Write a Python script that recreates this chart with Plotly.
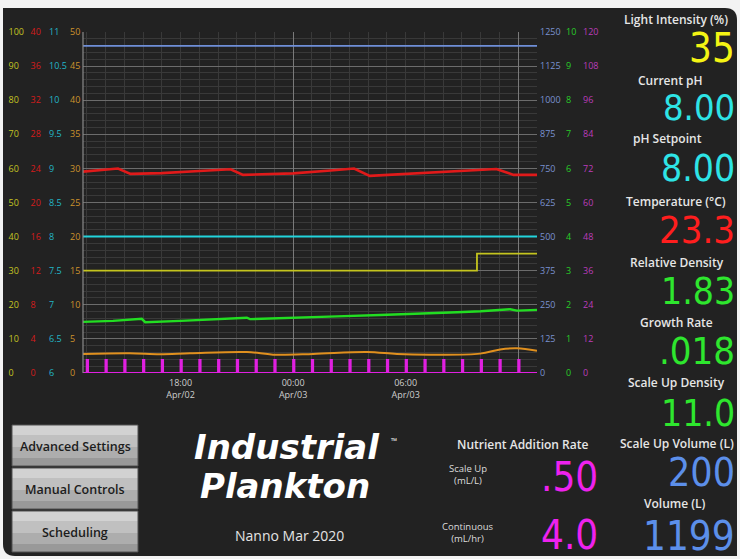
import plotly.graph_objects as go
import pandas as pd

W, H = 740, 559

# ---------------- data ----------------
x_start = "2020-04-02 12:48"
x_end = "2020-04-03 13:00"

x_tick_times = ["2020-04-02 18:00", "2020-04-03 00:00", "2020-04-03 06:00"]
x_tick_labels = ["18:00<br>Apr/02", "00:00<br>Apr/03", "06:00<br>Apr/03"]

# Temperature (°C) – red, left axis 0..40
temp_times = ["2020-04-02 12:48", "2020-04-02 13:40", "2020-04-02 14:40", "2020-04-02 15:20",
              "2020-04-02 17:00", "2020-04-02 19:00", "2020-04-02 20:40", "2020-04-02 21:20",
              "2020-04-03 00:00", "2020-04-03 02:00", "2020-04-03 03:15", "2020-04-03 04:05",
              "2020-04-03 06:00", "2020-04-03 08:30", "2020-04-03 10:50", "2020-04-03 11:45",
              "2020-04-03 13:00"]
temp_values = [23.62, 23.8, 23.98, 23.36, 23.45, 23.7, 23.9, 23.24, 23.42, 23.75, 23.98,
               23.12, 23.35, 23.7, 23.93, 23.24, 23.24]

# pH – cyan, left axis 6..11
ph_times = ["2020-04-02 12:48", "2020-04-02 16:00", "2020-04-02 20:00", "2020-04-03 00:00",
            "2020-04-03 04:00", "2020-04-03 08:00", "2020-04-03 13:00"]
ph_values = [8.0, 8.0, 8.0, 8.0, 8.0, 8.0, 8.0]

# Light intensity (%) – yellow, left axis 0..100
light_times = ["2020-04-02 12:48", "2020-04-03 09:48", "2020-04-03 13:00"]
light_values = [30, 35, 35]

# Orange series – left axis 0..50
orange_times = ["2020-04-02 12:48", "2020-04-02 15:18", "2020-04-02 16:54", "2020-04-02 18:30",
                "2020-04-02 21:32", "2020-04-02 22:56", "2020-04-03 01:04", "2020-04-03 03:56",
                "2020-04-03 05:32", "2020-04-03 07:18", "2020-04-03 09:58", "2020-04-03 11:02",
                "2020-04-03 11:56", "2020-04-03 13:00"]
orange_values = [2.79, 2.88, 2.74, 2.88, 3.08, 2.69, 2.79, 3.08, 2.79, 2.69, 2.84, 3.46, 3.62, 3.27]

# Volume (L) – blue, right axis 0..1250
volume_times = ["2020-04-02 12:48", "2020-04-03 13:00"]
volume_values = [1199, 1199]

# Relative density – green, right axis 0..10
density_times = ["2020-04-02 12:48", "2020-04-02 14:24", "2020-04-02 15:56", "2020-04-02 16:07",
                 "2020-04-02 18:00", "2020-04-02 21:32", "2020-04-02 21:42", "2020-04-03 00:00",
                 "2020-04-03 02:20", "2020-04-03 04:38", "2020-04-03 06:40", "2020-04-03 08:44",
                 "2020-04-03 10:00", "2020-04-03 11:34", "2020-04-03 11:56", "2020-04-03 13:00"]
density_values = [1.50, 1.53, 1.59, 1.49, 1.53, 1.62, 1.58, 1.63, 1.66, 1.70, 1.73, 1.78,
                  1.81, 1.87, 1.83, 1.85]

# Nutrient doses – magenta, right axis 0..120
dose_times = ["2020-04-02 13:00", "2020-04-02 14:00", "2020-04-02 15:00", "2020-04-02 16:00",
              "2020-04-02 17:00", "2020-04-02 18:00", "2020-04-02 19:00", "2020-04-02 20:00",
              "2020-04-02 21:00", "2020-04-02 22:00", "2020-04-02 23:00", "2020-04-03 00:00",
              "2020-04-03 01:00", "2020-04-03 02:00", "2020-04-03 03:00", "2020-04-03 04:00",
              "2020-04-03 05:00", "2020-04-03 06:00", "2020-04-03 07:00", "2020-04-03 08:00",
              "2020-04-03 09:00", "2020-04-03 10:00", "2020-04-03 11:00", "2020-04-03 12:00"]
dose_amounts = [4.6, 4.6, 4.6, 4.6, 4.6, 4.6, 4.6, 4.6, 4.6, 4.6, 4.6, 4.6,
                4.6, 4.6, 4.6, 4.6, 4.6, 4.6, 4.6, 4.6, 4.6, 4.6, 4.6, 4.6]

# Right-hand readouts
panel_labels = ["Light Intensity (%)", "Current pH", "pH Setpoint", "Temperature (°C)",
                "Relative Density", "Growth Rate", "Scale Up Density", "Scale Up Volume (L)",
                "Volume (L)"]
panel_values = ["35", "8.00", "8.00", "23.3", "1.83", ".018", "11.0", "200", "1199"]
panel_colors = ["#f4f414", "#2ee4e6", "#2ee4e6", "#ff1e1e", "#2ee62e", "#2ee62e", "#2ee62e",
                "#5c8fea", "#5c8fea"]

nutrient_labels = ["Scale Up<br>(mL/L)", "Continuous<br>(mL/hr)"]
nutrient_values = [".50", "4.0"]

buttons = ["Advanced Settings", "Manual Controls", "Scheduling"]

# ---------------- build ----------------
BG = "#222222"


def px(x):
    return x / W


def py(y):
    return 1 - y / H


# build dosing pulse line from dose events
pulse_x, pulse_y = [x_start], [0]
for t, a in zip(dose_times, dose_amounts):
    t0 = pd.Timestamp(t)
    t1 = t0 + pd.Timedelta(minutes=4)
    pulse_x += [t0, t0, t1, t1]
    pulse_y += [0, a, a, 0]
pulse_x.append(x_end)
pulse_y.append(0)

fig = go.Figure()
fig.add_trace(go.Scatter(x=volume_times, y=volume_values, yaxis="y5", mode="lines",
                         line=dict(color="#6f8fd8", width=1.6)))
fig.add_trace(go.Scatter(x=temp_times, y=temp_values, yaxis="y3", mode="lines",
                         line=dict(color="#e01a1a", width=2.6)))
fig.add_trace(go.Scatter(x=ph_times, y=ph_values, yaxis="y4", mode="lines",
                         line=dict(color="#22d4dc", width=2)))
fig.add_trace(go.Scatter(x=light_times, y=light_values, yaxis="y2", mode="lines",
                         line=dict(color="#c4c41e", width=1.8, shape="hv")))
fig.add_trace(go.Scatter(x=density_times, y=density_values, yaxis="y6", mode="lines",
                         line=dict(color="#22dd22", width=2.4)))
fig.add_trace(go.Scatter(x=orange_times, y=orange_values, yaxis="y", mode="lines",
                         line=dict(color="#e0901e", width=2, shape="spline")))
fig.add_trace(go.Scatter(x=pulse_x, y=pulse_y, xaxis="x2", yaxis="y7", mode="lines",
                         line=dict(color="#e020e0", width=2)))

dom_x = [px(83), px(537)]
dom_y = [py(373), py(32)]
LBL_FONT = "Open Sans"


def yax(rng, dtick, color, pos, main=False):
    d = dict(range=rng, tickmode="linear", tick0=rng[0], dtick=dtick, anchor="free",
             position=pos, side="right", showgrid=main, zeroline=False, showline=False,
             ticks="", automargin=False, domain=dom_y,
             tickfont=dict(size=9, color=color, family=LBL_FONT))
    if main:
        d.update(gridcolor="#6c6c6c", gridwidth=1,
                 minor=dict(tickmode="linear", tick0=0, dtick=1, showgrid=True,
                            gridcolor="#393939", ticks=""))
    else:
        d["overlaying"] = "y"
    return d


fig.update_layout(
    width=W, height=H, margin=dict(l=0, r=0, t=0, b=0),
    paper_bgcolor="#f3f3f3", plot_bgcolor=BG, showlegend=False,
    template="none", hovermode=False,
    xaxis=dict(domain=dom_x, range=[x_start, x_end], anchor="y", type="date",
               tickmode="array", tickvals=x_tick_times, ticktext=x_tick_labels,
               showgrid=False, zeroline=False, showline=False, ticks="", automargin=False,
               ticklabelstandoff=3,
               tickfont=dict(size=9, color="#cfcfcf", family=LBL_FONT),
               minor=dict(tickmode="linear", tick0="2020-04-02 00:00", dtick=3600000,
                          showgrid=True, gridcolor="#393939", ticks="")),
    xaxis2=dict(domain=dom_x, range=[x_start, x_end], overlaying="x", anchor="y", type="date",
                tickmode="linear", tick0="2020-04-03 00:00", dtick=43200000,
                showgrid=True, gridcolor="#7a7a7a", showticklabels=False, ticks="",
                zeroline=False, showline=False, automargin=False),
    yaxis=yax([0, 50], 5, "#cc922c", px(69), main=True),
    yaxis2=yax([0, 100], 10, "#c4c422", px(7.5)),
    yaxis3=yax([0, 40], 4, "#d41c1c", px(29.5)),
    yaxis4=yax([6, 11], 0.5, "#22b6c6", px(48)),
    yaxis5=yax([0, 1250], 125, "#7a92d0", px(539)),
    yaxis6=yax([0, 10], 1, "#28cc28", px(565)),
    yaxis7=yax([0, 120], 12, "#bb3cbb", px(582)),
)

shapes = []
# dark rounded panel
x0, x1, y0, y1, r = px(3), px(737), py(8), py(556), 12
rx, ry = r / W, r / H
path = (f"M {x0},{y0} L {x1 - rx},{y0} Q {x1},{y0} {x1},{y0 - ry} "
        f"L {x1},{y1} L {x0 + rx},{y1} Q {x0},{y1} {x0},{y1 + ry} Z")
shapes.append(dict(type="path", xref="paper", yref="paper", path=path,
                   fillcolor=BG, line=dict(width=0), layer="below"))
# plot left border
shapes.append(dict(type="line", xref="x domain", yref="y domain", x0=0, x1=0, y0=0, y1=1,
                   line=dict(color="#8a8a8a", width=1.2)))
# buttons
btn_tops = [425, 468, 511]
for bt in btn_tops:
    bands = [("#d2d2d2", 0, 10), ("#c0c0c0", 10, 22), ("#adadad", 22, 33), ("#999999", 33, 41)]
    for col, a, b in bands:
        shapes.append(dict(type="rect", xref="paper", yref="paper", x0=px(12), x1=px(138),
                           y0=py(bt + b), y1=py(bt + a), fillcolor=col, line=dict(width=0)))
    shapes.append(dict(type="rect", xref="paper", yref="paper", x0=px(12), x1=px(138),
                       y0=py(bt + 41), y1=py(bt), fillcolor="rgba(0,0,0,0)",
                       line=dict(color="#505050", width=1)))
fig.update_layout(shapes=shapes)

ann = []
label_y = [19, 80, 138.5, 202, 262, 322, 382, 443, 503]
label_x = [676, 670, 667, 676, 677, 676, 676, 677, 675]
digit_y = [46, 105, 166.5, 228, 289, 349, 411, 470.5, 533.5]
digit_size = [40, 36, 37, 38, 37, 38, 37, 39, 40]
DIGIT_FONT = "DejaVu Sans Condensed, DejaVu Sans"
for lbl, lx, ly in zip(panel_labels, label_x, label_y):
    ann.append(dict(text=lbl, x=px(lx), y=py(ly), xref="paper", yref="paper",
                    xanchor="center", yanchor="middle", showarrow=False,
                    font=dict(size=12, color="#e6e6e6", family=LBL_FONT, weight=600)))
for val, col, dy, ds in zip(panel_values, panel_colors, digit_y, digit_size):
    ann.append(dict(text=val, x=px(737), y=py(dy + 2), xref="paper", yref="paper",
                    xanchor="right", yanchor="middle", showarrow=False,
                    font=dict(size=ds, color=col, family=DIGIT_FONT)))

for b, bt in zip(buttons, btn_tops):
    ann.append(dict(text=b, x=px(75), y=py(bt + 21), xref="paper", yref="paper",
                    xanchor="center", yanchor="middle", showarrow=False,
                    font=dict(size=12.5, color="#1c1c1c", family=LBL_FONT, weight=600)))

ann.append(dict(text="Industrial", x=px(287), y=py(447), xref="paper", yref="paper",
                xanchor="center", yanchor="middle", showarrow=False,
                font=dict(size=34, color="#ffffff", family="DejaVu Sans", weight="bold",
                          style="italic")))
ann.append(dict(text="™", x=px(394), y=py(440), xref="paper", yref="paper",
                xanchor="center", yanchor="middle", showarrow=False,
                font=dict(size=8, color="#ffffff", family=LBL_FONT)))
ann.append(dict(text="Plankton", x=px(285), y=py(486), xref="paper", yref="paper",
                xanchor="center", yanchor="middle", showarrow=False,
                font=dict(size=34, color="#ffffff", family="DejaVu Sans", weight="bold",
                          style="italic")))
ann.append(dict(text="Nanno Mar 2020", x=px(289), y=py(535), xref="paper", yref="paper",
                xanchor="center", yanchor="middle", showarrow=False,
                font=dict(size=14, color="#e4e4e4", family=LBL_FONT)))
ann.append(dict(text="Nutrient Addition Rate", x=px(522), y=py(444), xref="paper",
                yref="paper", xanchor="center", yanchor="middle", showarrow=False,
                font=dict(size=12, color="#e6e6e6", family=LBL_FONT, weight=600)))
for lbl, ly in zip(nutrient_labels, [474, 532]):
    ann.append(dict(text=lbl, x=px(468), y=py(ly), xref="paper", yref="paper",
                    xanchor="center", yanchor="middle", showarrow=False,
                    font=dict(size=9.5, color="#dcdcdc", family=LBL_FONT)))
for val, ly in zip(nutrient_values, [474.5, 532.5]):
    ann.append(dict(text=val, x=px(600), y=py(ly + 2), xref="paper", yref="paper",
                    xanchor="right", yanchor="middle", showarrow=False,
                    font=dict(size=40, color="#ee22ee", family=DIGIT_FONT)))

fig.update_layout(annotations=ann)
fig.write_html("out.html", config={"displayModeBar": False},
               post_script="document.body.style.margin='0px';document.body.style.overflow='hidden';")
